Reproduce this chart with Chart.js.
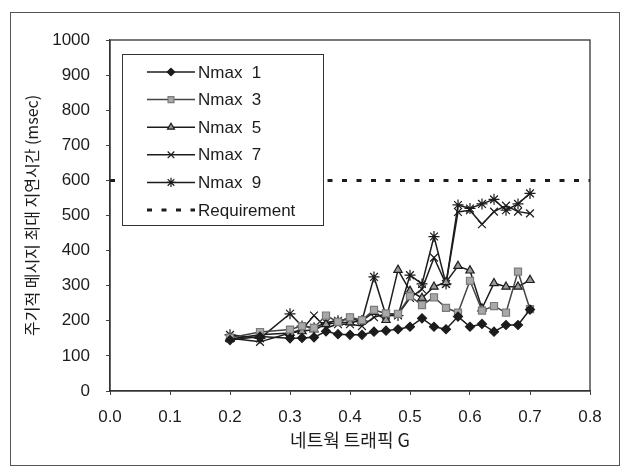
<!DOCTYPE html>
<html>
<head>
<meta charset="utf-8">
<script src="https://cdn.jsdelivr.net/npm/chart.js@4.4.1/dist/chart.umd.min.js"></script>
<style>
    html, body { margin: 0; padding: 0; background: #fff; }
    #wrap { width: 628px; height: 469px; position: relative; }
</style>
</head>
<body>
<div id="wrap"><canvas id="delay-chart"></canvas></div>
<script>
// network traffic G (x) and max periodic message delay in msec (y)
const TRAFFIC = [0.20, 0.25, 0.30, 0.32, 0.34, 0.36, 0.38, 0.40, 0.42, 0.44, 0.46, 0.48,
                 0.50, 0.52, 0.54, 0.56, 0.58, 0.60, 0.62, 0.64, 0.66, 0.68, 0.70];
const NMAX1 = [145, 155, 150, 151, 153, 170, 162, 160, 160, 169, 172, 176,
               183, 207, 183, 176, 212, 183, 191, 169, 188, 188, 232];
const NMAX3 = [152, 168, 175, 185, 180, 215, 197, 210, 202, 231, 221, 220,
               270, 245, 267, 237, 223, 314, 229, 242, 223, 340, 233];
const NMAX5 = [148, 160, 165, 170, 175, 190, 195, 195, 200, 225, 202, 345,
               285, 265, 297, 310, 356, 343, 235, 307, 297, 297, 316];
const NMAX7 = [150, 140, 165, 175, 215, 180, 190, 190, 185, 210, 220, 218,
               265, 290, 380, 305, 510, 515, 475, 511, 528, 511, 506];
const NMAX9 = [160, 150, 220, 185, 180, 195, 200, 205, 200, 325, 215, 215,
               330, 305, 440, 305, 530, 520, 533, 546, 515, 533, 563];
const REQ_X = [0.0, 0.8];
const REQ_Y = [600, 600];

const X_TICKS = [0.0, 0.1, 0.2, 0.3, 0.4, 0.5, 0.6, 0.7, 0.8];
const Y_TICKS = [0, 100, 200, 300, 400, 500, 600, 700, 800, 900, 1000];

const LATIN = "'Liberation Sans Narrow', 'Liberation Sans', Arial, sans-serif";
const LEGEND_FONT = "'Liberation Sans', Arial, sans-serif";
const KOREAN = "'Noto Sans CJK KR', 'Noto Sans', sans-serif";
const INK = '#1c1c1c';

function pts(xs, ys) {
    return xs.map((x, i) => ({ x, y: ys[i] }));
}

function series(label, ys, style, fill, border, radius, lineColor) {
    return {
        label,
        data: pts(TRAFFIC, ys),
        borderColor: lineColor || INK,
        borderWidth: 1.5,
        pointStyle: style,
        pointRadius: radius,
        pointHoverRadius: radius,
        pointBackgroundColor: fill,
        pointBorderColor: border,
        pointBorderWidth: 1.2,
        tension: 0,
        fill: false,
    };
}

const datasets = [
    series('Nmax  1', NMAX1, 'rectRot',  INK,       INK,       4.5),
    series('Nmax  3', NMAX3, 'rect',     '#a8a8a8', '#7a7a7a', 5, '#444'),
    series('Nmax  5', NMAX5, 'triangle', '#9a9a9a', INK,       4.8),
    series('Nmax  7', NMAX7, 'crossRot', INK,       INK,       5.5),
    series('Nmax  9', NMAX9, 'star',     INK,       INK,       5.5),
    {
        label: 'Requirement',
        data: pts(REQ_X, REQ_Y),
        borderColor: INK,
        borderWidth: 3,
        borderDash: [5, 9.5],
        pointRadius: 0,
        pointHoverRadius: 0,
        fill: false,
    },
];

// white page frame + plot box
const frames = {
    id: 'frames',
    beforeDraw(chart) {
        const { ctx, width, height } = chart;
        ctx.save();
        ctx.fillStyle = '#fff';
        ctx.fillRect(0, 0, width, height);
        ctx.strokeStyle = '#555';
        ctx.lineWidth = 1;
        ctx.strokeRect(10.5, 12.5, width - 19, height - 16);
        ctx.restore();
    },
    afterDraw(chart) {
        const { ctx, chartArea: a } = chart;
        ctx.save();
        ctx.strokeStyle = '#333';
        ctx.lineWidth = 1.3;
        ctx.strokeRect(a.left, a.top, a.right - a.left, a.bottom - a.top);
        ctx.restore();
    },
};

// boxed legend inside the plot, line sample + marker like the original
const boxLegend = {
    id: 'boxLegend',
    afterDatasetsDraw(chart) {
        const { ctx, chartArea: a } = chart;
        const x0 = a.left + 12, y0 = a.top + 14, w = 201, h = 171;
        ctx.save();
        ctx.fillStyle = '#fff';
        ctx.fillRect(x0, y0, w, h);
        ctx.strokeStyle = '#333';
        ctx.lineWidth = 1;
        ctx.strokeRect(x0 + 0.5, y0 + 0.5, w, h);
        chart.data.datasets.forEach((ds, i) => {
            const cy = y0 + 18 + i * 27.6;
            ctx.strokeStyle = ds.borderColor;
            ctx.lineWidth = ds.borderWidth;
            ctx.setLineDash(ds.borderDash || []);
            ctx.beginPath();
            ctx.moveTo(x0 + 25, cy);
            ctx.lineTo(x0 + 73, cy);
            ctx.stroke();
            ctx.setLineDash([]);
            if (ds.pointRadius > 0) {
                ctx.fillStyle = ds.pointBackgroundColor;
                ctx.strokeStyle = ds.pointBorderColor;
                ctx.lineWidth = ds.pointBorderWidth;
                Chart.helpers.drawPoint(ctx, {
                    pointStyle: ds.pointStyle,
                    radius: ds.pointRadius - 0.8,
                    rotation: 0,
                    borderWidth: ds.pointBorderWidth,
                }, x0 + 49, cy);
            }
            ctx.fillStyle = INK;
            ctx.font = '17px ' + LEGEND_FONT;
            ctx.textBaseline = 'middle';
            ctx.fillText(ds.label, x0 + 76, cy + 1);
        });
        ctx.restore();
    },
};

new Chart(document.getElementById('delay-chart'), {
    type: 'line',
    data: { datasets },
    plugins: [frames, boxLegend],
    options: {
        responsive: true,
        maintainAspectRatio: false,
        animation: false,
        events: [],
        layout: { padding: { left: 10, right: 38, top: 40, bottom: 10 } },
        plugins: {
            legend: { display: false },
            tooltip: { enabled: false },
        },
        scales: {
            x: {
                type: 'linear',
                min: 0,
                max: 0.8,
                afterBuildTicks: s => { s.ticks = X_TICKS.map(v => ({ value: v })); },
                afterFit: s => { s.height = 68; },
                grid: { drawOnChartArea: false, drawTicks: true, tickLength: 4, color: '#444' },
                border: { display: true, color: '#333', width: 1.3 },
                ticks: {
                    color: INK,
                    padding: 12,
                    font: { family: LATIN, size: 17 },
                    callback: v => Number(v).toFixed(1),
                },
                title: {
                    display: true,
                    text: '네트웍 트래픽 G',
                    color: INK,
                    font: { family: KOREAN, size: 18 },
                    padding: { top: 8, bottom: 8 },
                },
            },
            y: {
                min: 0,
                max: 1000,
                afterBuildTicks: s => { s.ticks = Y_TICKS.map(v => ({ value: v })); },
                afterFit: s => { s.width = 100; },
                grid: { drawOnChartArea: false, drawTicks: true, tickLength: 4, color: '#444' },
                border: { display: true, color: '#333', width: 1.3 },
                ticks: {
                    color: INK,
                    padding: 16,
                    font: { family: LATIN, size: 17 },
                    callback: v => String(v),
                },
                title: {
                    display: true,
                    text: '주기적 메시지 최대 지연시간 (msec)',
                    color: INK,
                    font: { family: KOREAN, size: 16 },
                    padding: { top: 12, bottom: 0 },
                },
            },
        },
    },
});
</script>
</body>
</html>
